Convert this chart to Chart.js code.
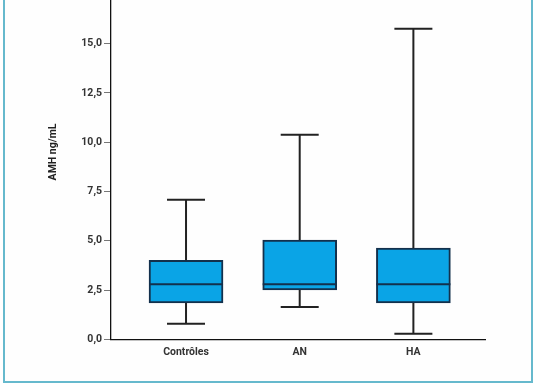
<!DOCTYPE html>
<html><head><meta charset="utf-8">
<script src="https://cdn.jsdelivr.net/npm/chart.js@4/dist/chart.umd.min.js"></script>
<style>
html,body{margin:0;padding:0;background:#fff;width:536px;height:386px;overflow:hidden;position:relative;}
#frame{position:absolute;left:3px;top:-10px;width:530px;height:393px;border:2px solid #66b9cd;box-sizing:border-box;background:#fefefe;}
#c{position:absolute;left:0;top:-20px;}
</style></head>
<body>
<div id="frame"></div>
<canvas id="c" width="536" height="406"></canvas>
<script>
const categories = ['Contrôles', 'AN', 'HA'];
const minValues = [0.79, 1.64, 0.28];
const q1Values = [1.84, 2.50, 1.84];
const medianValues = [2.79, 2.79, 2.79];
const q3Values = [4.01, 5.04, 4.63];
const maxValues = [7.08, 10.38, 15.76];
const yTicks = [0, 2.5, 5, 7.5, 10, 12.5, 15, 17.5];
const yTitle = 'AMH ng/mL';

const FONT = 'Roboto, "Open Sans", sans-serif';

const boxPlugin = {
  id: 'boxWhiskers',
  afterDatasetsDraw(chart) {
    const {ctx, scales: {x, y}} = chart;
    const bars = chart.getDatasetMeta(0).data;
    ctx.save();
    categories.forEach((c, i) => {
      const cx = x.getPixelForValue(i + 1);
      const half = 19;
      const yMin = y.getPixelForValue(minValues[i]);
      const yMax = y.getPixelForValue(maxValues[i]);
      const yQ1 = y.getPixelForValue(q1Values[i]);
      const yQ3 = y.getPixelForValue(q3Values[i]);
      const yMed = y.getPixelForValue(medianValues[i]);
      ctx.strokeStyle = '#222';
      ctx.lineWidth = 2;
      ctx.beginPath();
      ctx.moveTo(cx, yQ3); ctx.lineTo(cx, yMax);
      ctx.moveTo(cx - half, yMax); ctx.lineTo(cx + half, yMax);
      ctx.moveTo(cx, yQ1); ctx.lineTo(cx, yMin);
      ctx.moveTo(cx - half, yMin); ctx.lineTo(cx + half, yMin);
      ctx.stroke();
      const bw = bars[i].width;
      ctx.strokeStyle = '#13304c';
      ctx.beginPath();
      ctx.moveTo(cx - bw / 2, yMed); ctx.lineTo(cx + bw / 2, yMed);
      ctx.stroke();
    });
    // y axis title
    ctx.translate(53, 172);
    ctx.rotate(-Math.PI / 2);
    ctx.font = 'bold 10.5px ' + FONT;
    ctx.fillStyle = '#222';
    ctx.textAlign = 'center';
    ctx.textBaseline = 'middle';
    ctx.fillText(yTitle, 0, 0);
    ctx.restore();
  }
};

new Chart(document.getElementById('c'), {
  type: 'bar',
  data: {
    datasets: [{
      data: categories.map((c, i) => ({x: i + 1, y: [q1Values[i], q3Values[i]]})),
      backgroundColor: '#0aa4e6',
      borderColor: '#13304c',
      borderWidth: 2,
      borderSkipped: false,
      barThickness: 74
    }]
  },
  options: {
    responsive: false,
    animation: false,
    devicePixelRatio: 1,
    layout: {padding: {top: 14.4, right: 51, bottom: 0, left: 0}},
    plugins: {legend: {display: false}, tooltip: {enabled: false}},
    scales: {
      x: {
        type: 'linear',
        offset: false,
        min: 0.34,
        max: 3.63,
        afterBuildTicks: s => { s.ticks = categories.map((c, i) => ({value: i + 1})); },
        afterFit: s => { s.height = 46.7; },
        grid: {display: false, drawTicks: false},
        border: {display: true, color: '#111', width: 1.3},
        ticks: {
          callback: v => categories[v - 1],
          font: {family: FONT, size: 10.5, weight: 'bold'},
          color: '#333',
          padding: 7,
          maxRotation: 0
        }
      },
      y: {
        min: 0,
        max: 17.5,
        afterBuildTicks: s => { s.ticks = yTicks.map(v => ({value: v})); },
        afterFit: s => { s.width = 111; },
        grid: {drawOnChartArea: false, drawTicks: true, tickLength: 7, color: '#777', lineWidth: 1},
        border: {display: true, color: '#111', width: 1.3},
        ticks: {
          callback: v => v.toFixed(1).replace('.', ','),
          font: {family: FONT, size: 10.5, weight: 'bold'},
          color: '#333',
          padding: 2
        }
      }
    }
  },
  plugins: [boxPlugin]
});
</script>
</body></html>
